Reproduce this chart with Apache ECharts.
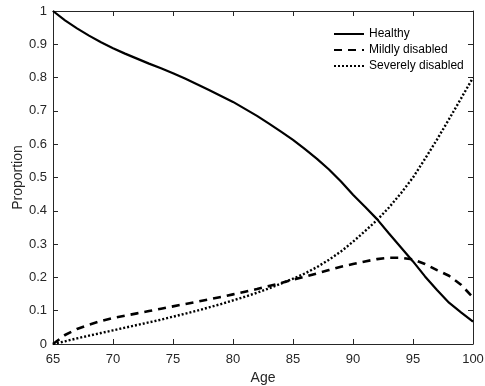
<!DOCTYPE html>
<html>
<head>
<meta charset="utf-8">
<script src="https://cdn.jsdelivr.net/npm/echarts@6/dist/echarts.min.js"></script>
<style>
  html, body { margin: 0; padding: 0; background: #fff; }
  #chart { width: 485px; height: 386px; }
</style>
</head>
<body>
<div id="chart"></div>
<script>
const ages = [65, 66, 67, 68, 69, 70, 71, 72, 73, 74, 75, 76, 77, 78, 79, 80, 81, 82,
  83, 84, 85, 86, 87, 88, 89, 90, 91, 92, 93, 94, 95, 96, 97, 98, 99, 100];

const healthy = [1.000, 0.972, 0.948, 0.926, 0.906, 0.888, 0.872, 0.857, 0.842, 0.828,
  0.813, 0.797, 0.780, 0.763, 0.745, 0.727, 0.706, 0.685, 0.662, 0.638, 0.613, 0.585,
  0.556, 0.524, 0.488, 0.448, 0.412, 0.375, 0.332, 0.290, 0.248, 0.203, 0.162, 0.124,
  0.095, 0.067];

const mildly = [0.000, 0.027, 0.045, 0.058, 0.069, 0.078, 0.085, 0.092, 0.099, 0.106,
  0.113, 0.120, 0.127, 0.134, 0.141, 0.149, 0.157, 0.165, 0.174, 0.183, 0.193, 0.202,
  0.212, 0.222, 0.232, 0.240, 0.248, 0.255, 0.259, 0.259, 0.254, 0.240, 0.222, 0.205,
  0.178, 0.140];

const severely = [0.000, 0.008, 0.017, 0.025, 0.033, 0.041, 0.049, 0.057, 0.065, 0.073,
  0.082, 0.091, 0.100, 0.110, 0.120, 0.131, 0.142, 0.154, 0.167, 0.181, 0.196, 0.212,
  0.231, 0.253, 0.278, 0.307, 0.339, 0.372, 0.410, 0.453, 0.500, 0.556, 0.614, 0.675,
  0.737, 0.800];

const seriesNames = ["Healthy", "Mildly disabled", "Severely disabled"];

const font = "'Liberation Sans', Arial, sans-serif";
const axisColor = "#262626";

const pairs = (vals) => ages.map((a, i) => [a, vals[i]]);

const chart = echarts.init(document.getElementById("chart"));

const baseAxis = {
  axisLine: { show: true, onZero: false, lineStyle: { color: axisColor, width: 1 } },
  axisTick: { show: true, inside: true, length: 5, lineStyle: { color: axisColor } },
  splitLine: { show: false }
};

chart.setOption({
  animation: false,
  grid: {
    left: 53, right: 12, top: 11, bottom: 42,
    containLabel: false, outerBoundsMode: "none"
  },
  legend: {
    left: 333,
    top: 28,
    orient: "vertical",
    itemWidth: 30,
    itemHeight: 14,
    itemGap: 4,
    padding: 0,
    itemStyle: { color: "transparent", borderColor: "transparent", borderWidth: 0 },
    textStyle: { fontFamily: font, fontSize: 12, color: "#000" },
    data: seriesNames
  },
  xAxis: [
    {
      ...baseAxis,
      type: "value",
      min: 65,
      max: 100,
      interval: 5,
      name: "Age",
      nameLocation: "middle",
      nameGap: 27,
      nameTextStyle: { fontFamily: font, fontSize: 14, color: axisColor },
      axisLabel: { fontFamily: font, fontSize: 13, color: axisColor, margin: 9 }
    },
    {
      ...baseAxis,
      type: "value",
      position: "top",
      min: 65,
      max: 100,
      interval: 5,
      axisLabel: { show: false }
    }
  ],
  yAxis: [
    {
      ...baseAxis,
      type: "value",
      min: 0,
      max: 1,
      interval: 0.1,
      name: "Proportion",
      nameLocation: "middle",
      nameGap: 28,
      nameMoveOverlap: false,
      nameTextStyle: { fontFamily: font, fontSize: 14, color: axisColor },
      axisLabel: { fontFamily: font, fontSize: 13, color: axisColor, margin: 6 }
    },
    {
      ...baseAxis,
      type: "value",
      position: "right",
      min: 0,
      max: 1,
      interval: 0.1,
      axisLabel: { show: false }
    }
  ],
  series: [
    {
      name: seriesNames[0],
      type: "line",
      symbol: "none",
      data: pairs(healthy),
      lineStyle: { color: "#000", width: 2.2, type: "solid" },
      itemStyle: { color: "#000" }
    },
    {
      name: seriesNames[1],
      type: "line",
      symbol: "none",
      data: pairs(mildly),
      lineStyle: { color: "#000", width: 2.6, type: [8, 6] },
      itemStyle: { color: "#000" }
    },
    {
      name: seriesNames[2],
      type: "line",
      symbol: "none",
      data: pairs(severely),
      lineStyle: { color: "#000", width: 2.4, type: [2, 2] },
      itemStyle: { color: "#000" }
    }
  ]
});
</script>
</body>
</html>
